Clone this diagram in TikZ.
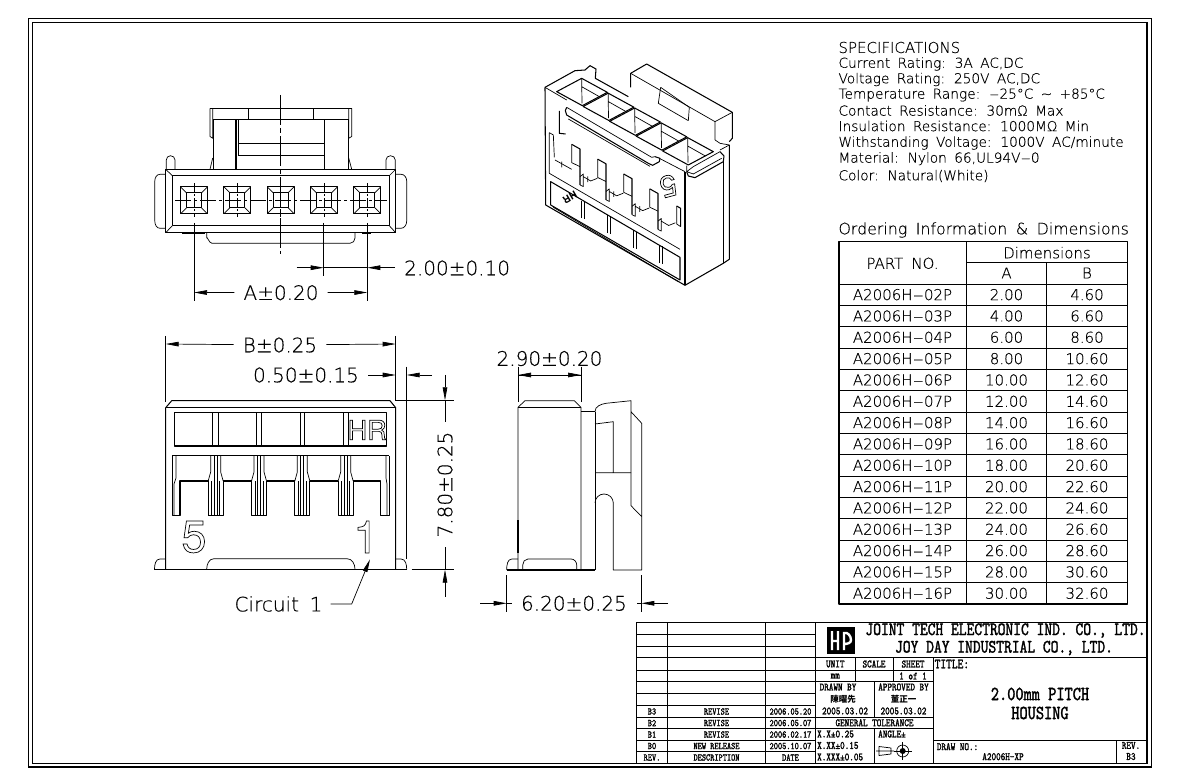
\documentclass[tikz,border=0pt]{standalone}
\usepackage{fontspec}
\usetikzlibrary{arrows.meta,calc}
\newfontfamily\cadfont[WordSpace=1.7,FakeBold=0.25]{DejaVu Sans ExtraLight}
\newfontfamily\bigfont{TeX Gyre Heros}
\newfontfamily\cjkfont{Noto Sans CJK TC}
\newfontfamily\tbfont[Extension=.otf,FakeBold=1.5,FakeStretch=0.78]{lmmono10-regular}
\newcommand{\outlined}[1]{\special{pdf:literal direct 1 Tr 0.7 w}#1\special{pdf:literal direct 0 Tr}}
\newcommand{\wdash}{\scalebox{2.1}[1]{-}}
\tikzstyle{part}=[draw, line width=1.05pt, line join=round]
\tikzstyle{fine}=[draw, line width=0.7pt, line join=round]
\tikzstyle{axis}=[draw, line width=0.6pt, dash pattern=on 16pt off 3pt on 3pt off 3pt]
\tikzstyle{extline}=[draw, line width=0.6pt]
\tikzstyle{dimline}=[draw, line width=0.7pt, -{Stealth[length=13pt,width=4.6pt,inset=0pt]}]
\tikzstyle{dimtext}=[font=\cadfont\fontsize{20}{20}\selectfont, inner sep=9pt]
\tikzstyle{spec}=[anchor=west, inner sep=0pt, font=\cadfont\fontsize{13.7}{14}\selectfont]
\tikzstyle{cell}=[inner sep=0pt, font=\cadfont\fontsize{15}{16}\selectfont]
\tikzstyle{tbs}=[inner sep=0pt, font=\tbfont\fontsize{10.2}{11}\selectfont]
\tikzstyle{tbm}=[inner sep=0pt, font=\tbfont\fontsize{11.2}{12}\selectfont]
\tikzstyle{tbl}=[inner sep=0pt, font=\tbfont\fontsize{19}{20}\selectfont]
\begin{document}
\begin{tikzpicture}[x=1pt,y=-1pt]
  \useasboundingbox (0,0) rectangle (1189,775);

  % Sheet frame
  \draw[line width=1.1pt] (28.3,18.3) rectangle (1151.5,767);
  \draw[line width=1.3pt] (32.3,22.3) rectangle (1147,763.5);

  % Front view, top left
  \path[part] (165.7,169.3) rectangle (395.7,232.7);
  \path[fine] (172.3,175.7) rectangle (389.3,225.7);
  \path[fine] (165.7,169.3) -- (172.3,175.7) (395.7,169.3) -- (389.3,175.7)
    (165.7,232.7) -- (172.3,225.7) (395.7,232.7) -- (389.3,225.7);
  \path[fine] (165.7,174.3) -- (160,174.3) to[out=180,in=90] (154.8,181) -- (154.8,221)
    to[out=-90,in=180] (160,228.3) -- (165.7,228.3);
  \path[fine] (395.7,174.3) -- (401,174.3) to[out=0,in=90] (406.7,181) -- (406.7,221)
    to[out=-90,in=0] (401,228.3) -- (395.7,228.3);
  \path[fine] (166.3,169.3) -- (166.3,160) to[out=90,in=180] (170.5,155.7)
    to[out=0,in=90] (175,160) -- (175,169.3);
  \path[fine] (386,169.3) -- (386,160) to[out=90,in=180] (390.5,155.7)
    to[out=0,in=90] (395.3,160) -- (395.3,169.3);
  \path[fine] (210,108.3) -- (351.7,108.3) (213,119.3) -- (348.5,119.3);
  \path[fine] (210,108.3) -- (210,136.5) -- (212.7,138.3) -- (212.7,108.3);
  \path[fine] (351.7,108.3) -- (351.7,136.5) -- (348.7,138.3) -- (348.7,108.3);
  \path[fine] (248.3,108.3) -- (248.3,119.3) (313.3,108.3) -- (313.3,119.3);
  \path[fine] (213.3,119.3) -- (213.3,169.3) (348.3,119.3) -- (348.3,169.3);
  \path[part] (236,119.3) -- (236,169.3) (324.5,119.3) -- (324.5,169.3);
  \path[fine] (238.3,119.3) -- (238.3,155.3) (238.3,143.3) -- (324.5,143.3) (238.3,155.3) -- (324.5,155.3);
  \path[fine] (212.7,158) -- (210,169.3) (348.7,158) -- (351.7,169.3);
  \path[fine] (206.7,232.7) -- (206.7,238) to[out=90,in=180] (212,243.3) -- (350,243.3)
    to[out=0,in=-90] (355,238) -- (355,232.7);
  \path[part] (182,233.3) -- (205,233.3) (362,233.3) -- (371,233.3);
  \foreach \cx in {194,237.33,280.67,324,367.33}{
    \begin{scope}[shift={(\cx,200.3)}]
      \path[part] (-13.4,-13.4) rectangle (13.4,13.4);
      \path[fine] (-7.5,-7.5) rectangle (7.5,7.5);
      \path[fine] (-13.4,-13.4) -- (-7.5,-7.5) (13.4,-13.4) -- (7.5,-7.5)
        (-13.4,13.4) -- (-7.5,7.5) (13.4,13.4) -- (7.5,7.5);
      \path[axis, dash pattern=on 9pt off 2pt on 2pt off 2pt] (0,-17) -- (0,17);
    \end{scope}
  }
  \path[axis] (175,200.3) -- (387,200.3);
  \path[axis, dash pattern=on 30pt off 3pt on 5pt off 3pt] (280.7,95) -- (280.7,254);

  % Dimensions of the front view
  \path[extline] (194,223) -- (194,301);
  \path[extline] (323.7,223) -- (323.7,276);
  \path[extline] (367.3,223) -- (367.3,301);
  \coordinate (pitchL) at (323.7,267.7);
  \coordinate (pitchLfree) at (296.7,267.7);
  \coordinate (pitchR) at (367.3,267.7);
  \node[dimtext, anchor=west, inner sep=0pt] (pitchText) at (404,268) {2.00±0.10};
  \coordinate (pitchRfree) at (395,267.7);
  \path[dimline] (pitchLfree) -- (pitchL);
  \path[dimline] (pitchRfree) -- (pitchR);
  \path[extline] (pitchL) -- (pitchR);
  \coordinate (aL) at (194,292.5);
  \coordinate (aR) at (367.3,292.5);
  \node[dimtext] (aText) at (281,292.7) {A±0.20};
  \path[dimline] (aText) -- (aL);
  \path[dimline] (aText) -- (aR);

  % Rear view, lower left
  \path[part] (165.7,569.3) -- (165.7,407.7) -- (171.7,400.7) -- (390,400.7) -- (395.7,407.7) -- (395.7,569.3);
  \path[fine] (165.7,407.7) -- (395.7,407.7);
  \path[part] (154.3,569.3) -- (406.7,569.3);
  \path[fine] (165.7,559) -- (160,559) to[out=180,in=90] (154.5,569.3);
  \path[fine] (395.7,559) -- (401,559) to[out=0,in=90] (406.7,569.3);
  \path[fine] (206.7,569.3) to[out=90,in=180] (214,558.7) -- (347,558.7) to[out=0,in=90] (355,569.3);
  \path[part] (174.3,412.3) rectangle (386.7,446);
  \foreach \lx in {212.7,218,256.7,261,300,304.3,343.3,348.3}{
    \path[fine] (\lx,412.3) -- (\lx,446);
  }
  \node[inner sep=0pt, font=\bigfont\fontsize{27}{27}\selectfont] (hrMark) at (367.2,430) {\outlined{HR}};
  \path[part] (172.3,455.7) -- (389.3,455.7);
  \path[part] (172.3,455.7) -- (172.3,515.7) -- (180,515.7) -- (180,481) -- (208.2,481) -- (208.2,515.7);
  \foreach \fx in {215.67,259,302.33,345.67}{
    \begin{scope}[shift={(\fx,0)}]
      \path[part] (-7.5,481) -- (-7.5,515.7) -- (7.5,515.7) -- (7.5,481);
      \path[fine] (-5,455.7) -- (-5,472) -- (-7.5,481) (5,455.7) -- (5,472) -- (7.5,481);
      \path[fine] (-1.5,455.7) -- (-1.5,515.7) (1.5,455.7) -- (1.5,515.7);
      \path[fine] (-4,481) -- (-4,515.7) (4,481) -- (4,515.7);
    \end{scope}
  }
  \foreach \nx in {223.17,266.5,309.83}{
    \path[part] (\nx,481) -- (\nx+28.33,481);
  }
  \path[part] (353.17,481) -- (380.7,481) -- (380.7,515.7) -- (389.3,515.7) -- (389.3,455.7);
  \path[fine] (176,455.7) -- (176,478) -- (174,484) -- (174,515.7) (386,455.7) -- (386,478) -- (387,484) -- (387,515.7);
  \node[inner sep=0pt, font=\bigfont\fontsize{45}{45}\selectfont] (numFive) at (194,537) {\outlined{5}};
  \node[inner sep=0pt, font=\bigfont\fontsize{45}{45}\selectfont] (numOne) at (366,537) {\outlined{1}};

  % Dimensions of the rear view
  \path[extline] (165.7,336) -- (165.7,401.7);
  \path[extline] (395.7,336) -- (395.7,400.7);
  \path[extline] (406.7,366.7) -- (406.7,559);
  \path[extline] (395.7,400.7) -- (454,400.7);
  \path[extline] (411.7,569.6) -- (454,569.6);
  \coordinate (bL) at (165.7,344);
  \coordinate (bR) at (395.7,344);
  \node[dimtext] (bText) at (280,345) {B±0.25};
  \path[dimline] (bText) -- (bL);
  \path[dimline] (bText) -- (bR);
  \coordinate (wallL) at (395.7,375);
  \coordinate (wallR) at (406.7,375);
  \coordinate (wallFree) at (432,375);
  \node[dimtext] (wallText) at (306,375) {0.50±0.15};
  \path[dimline] (wallText) -- (wallL);
  \path[dimline] (wallFree) -- (wallR);
  \coordinate (hTop) at (445,400.3);
  \coordinate (hTopFree) at (445,375);
  \coordinate (hBot) at (445,569.6);
  \coordinate (hBotFree) at (445,596.7);
  \node[dimtext, rotate=90] (hText) at (445,484.5) {7.80±0.25};
  \path[dimline] (hTopFree) -- (hTop);
  \path[extline] (hTop) -- (hText);
  \path[dimline] (hBotFree) -- (hBot);
  \path[extline] (hBot) -- (hText);
  \coordinate (circuitTip) at (370,559.3);
  \coordinate (circuitBend) at (351.7,604);
  \node[dimtext, inner sep=8pt] (circuitText) at (278.5,604) {Circuit 1};
  \path[dimline] (circuitText) -- (circuitBend) -- (circuitTip);

  % Side view
  \path[fine] (518,570) -- (518,407.3) -- (525,400.7) -- (574.3,400.7) -- (581,407.3) -- (581,570);
  \path[fine] (518,407.3) -- (581,407.3);
  \path[part] (506.7,570) -- (595,570);
  \path[fine] (518,559) -- (512,559) to[out=180,in=90] (506.7,570);
  \path[fine] (522.7,570) -- (522.7,565) to[out=90,in=180] (528,559) -- (571,559) to[out=0,in=90] (576.7,565) -- (576.7,570);
  \path[part] (518,520) -- (518,553);
  \path[fine] (581,411.7) -- (595,411.7);
  \path[fine] (595,411.7) -- (595,570);
  \path[fine] (595,411.7) to[out=90,in=190] (606,403.3) -- (631,400.7) -- (631,505.7)
    -- (641.7,516.7) (631,411.7) -- (641.7,423.3) -- (641.7,570) -- (613.3,570) -- (613.3,503)
    to[out=90,in=0] (604,494) to[out=180,in=90] (595,503);
  \path[fine] (595,424) -- (613.3,421.7) -- (613.3,472.7) (595,472.7) -- (631,472.7);
  \coordinate (depthL) at (518,375);
  \coordinate (depthR) at (581,375);
  \path[extline] (518,366.7) -- (518,401.7) (581,366.7) -- (581,401.7);
  \node[dimtext, inner sep=0pt] (depthText) at (549.5,358.5) {2.90±0.20};
  \path[dimline] (depthR) -- (depthL);
  \path[dimline] (depthL) -- (depthR);
  \path[extline] (506.7,575) -- (506.7,611.7) (641.3,575) -- (641.3,611.7);
  \coordinate (totalL) at (506.7,603.3);
  \coordinate (totalR) at (641.3,603.3);
  \coordinate (totalLfree) at (480,603.3);
  \coordinate (totalRfree) at (668,603.3);
  \coordinate (totalLstub) at (511.7,603.3);
  \coordinate (totalRstub) at (636.7,603.3);
  \node[dimtext, inner sep=0pt] (totalText) at (574,603.3) {6.20±0.25};
  \path[dimline] (totalLfree) -- (totalL);
  \path[dimline] (totalRfree) -- (totalR);
  \path[extline] (totalL) -- (totalLstub) (totalR) -- (totalRstub);

  % Isometric view, at the scale of its sketch
  \begin{scope}[shift={(520,50)},scale=0.3333]
    \path[part] (75,112) -- (77,465) -- (495,706) -- (610,640) -- (628,628) -- (628,285);
    \path[part] (75,112) -- (165,62) -- (195,60) -- (210,47) -- (228,57) -- (226,85) -- (325,140);
    \path[part] (332,112) -- (332,70) -- (380,42) -- (637,187) -- (637,265) -- (628,275);
    \path[fine] (332,70) -- (585,215) -- (637,187) (585,215) -- (585,270);
    \path[fine] (422,112) -- (415,160) -- (505,212) -- (508,172) -- (422,112);
    \path[fine] (585,270) -- (600,280) -- (628,285);
    \foreach \i in {0,1,2,3,4}{
      \begin{scope}[shift={(79.5*\i,44.5*\i)}]
        \path[part] (110,125) -- (185,85) -- (262,127) -- (187,167) -- cycle;
        \path[fine] (185,85) -- (186,160) (185,110) -- (238,140);
      \end{scope}
    }
    \path[fine] (75,112) -- (140,150) (500,347) -- (500,365);
    \path[part] (140,172) -- (136,182) -- (140,195) -- (385,340) -- (398,346) -- (418,335) -- (420,325) -- (405,320);
    \path[fine] (140,172) -- (395,322) -- (405,320) (145,207) -- (390,349);
    \path[part] (495,365) -- (495,706);
    \path[fine] (418,325) -- (495,365);
    \path[part] (500,365) -- (505,378) -- (525,383) -- (610,335) -- (612,318) -- (600,305);
    \path[fine] (500,365) -- (520,372) -- (605,325) (600,305) -- (520,350) -- (500,365);
    \path[part] (610,325) -- (610,640);
    \path[fine] (628,285) -- (600,300);
    \path[part] (118,183) -- (118,250) -- (137,252);
    \path[fine] (88,248) -- (100,255) -- (103,322) (88,248) -- (88,370) -- (480,598);
    \path[fine] (105,330) -- (155,358);
    \foreach \i in {0,1,2,3}{
      \begin{scope}[shift={(78*\i,44.5*\i)}]
        \path[part] (155,283) -- (180,297) -- (180,405);
        \path[fine] (155,283) -- (155,338) -- (180,350) (125,335) -- (125,352);
        \path[fine] (180,380) -- (190,372) -- (190,410) -- (180,405) (190,380) -- (212,393) -- (232,385);
      \end{scope}
    }
    \path[part] (470,468) -- (482,475) -- (482,530);
    \path[fine] (470,468) -- (470,522) -- (482,530);
    \path[part] (92,395) -- (480,622) -- (480,690) -- (92,465) -- cycle;
    \path[fine] (100,472) -- (475,695);
    \foreach \i in {0,1,2,3}{
      \begin{scope}[shift={(78*\i,44.5*\i)}]
        \path[part] (185,452) -- (185,505);
        \path[fine] (192,456) -- (192,508);
      \end{scope}
    }
    \node[rotate=210, inner sep=0pt, font=\bigfont\bfseries\fontsize{10}{10}\selectfont] (isoMark) at (150,442) {HR};
    \node[rotate=195, inner sep=0pt, font=\bigfont\fontsize{30}{30}\selectfont] (isoNum) at (445,408) {\outlined{5}};
  \end{scope}

  % Specifications
  \node[spec, font=\cadfont\fontsize{15}{15}\selectfont] (spTitle) at (838.3,47.5) {SPECIFICATIONS};
  \node[spec] (sp1) at (838.3,64) {Current Rating: 3A AC,DC};
  \node[spec] (sp2) at (838.3,79.5) {Voltage Rating: 250V AC,DC};
  \node[spec] (sp3) at (838.3,95) {Temperature Range: \wdash25°C {\char"7E} +85°C};
  \node[spec] (sp4) at (838.3,110.5) {Contact Resistance: 30mΩ Max};
  \node[spec] (sp5) at (838.3,126) {Insulation Resistance: 1000MΩ Min};
  \node[spec] (sp6) at (838.3,143) {Withstanding Voltage: 1000V AC/minute};
  \node[spec] (sp7) at (838.3,158.7) {Material: Nylon 66,UL94V\wdash0};
  \node[spec] (sp8) at (838.3,176) {Color: Natural(White)};
  \node[spec, font=\cadfont\fontsize{15.8}{16}\selectfont] (orderTitle) at (838.3,230) {Ordering Information \& Dimensions};

  % Ordering table
  \path[part] (839,241.7) rectangle (1127.7,604);
  \path[fine] (966.3,241.7) -- (966.3,604) (1046.7,262.3) -- (1046.7,604) (966.3,262.3) -- (1127.7,262.3);
  \foreach \r in {0,...,14}{
    \path[fine] (839,284+21.33*\r) -- (1127.7,284+21.33*\r);
  }
  \node[cell] (hdPart) at (902.5,263.3) {PART NO.};
  \node[cell] (hdDim) at (1047,252.7) {Dimensions};
  \node[cell] (hdA) at (1006.5,273) {A};
  \node[cell] (hdB) at (1087,273) {B};
  \foreach \pn/\va/\vb [count=\i] in {02/2.00/4.60,03/4.00/6.60,04/6.00/8.60,05/8.00/10.60,
      06/10.00/12.60,07/12.00/14.60,08/14.00/16.60,09/16.00/18.60,10/18.00/20.60,11/20.00/22.60,
      12/22.00/24.60,13/24.00/26.60,14/26.00/28.60,15/28.00/30.60,16/30.00/32.60}{
    \node[cell] (part\i) at (902.5,284+21.33*\i-10.67) {A2006H\wdash\pn P};
    \node[cell] (dimA\i) at (1006.5,284+21.33*\i-10.67) {\va};
    \node[cell] (dimB\i) at (1087,284+21.33*\i-10.67) {\vb};
  }

  % Title block
  \path[fine] (636.7,622.5) rectangle (1147,763.5);
  \foreach \ry in {634.3,646.7,657.7,670,681.7,693.7,705.7,717.3,728.3,740.3,751.7}{
    \path[fine] (636.7,\ry) -- (815.7,\ry);
  }
  \path[fine] (667.7,622.5) -- (667.7,763.5) (765.3,622.5) -- (765.3,763.5) (815.7,622.5) -- (815.7,763.5);
  \path[fine] (815.7,657.7) -- (1147,657.7) (815.7,670) -- (933.3,670) (815.7,681.5) -- (933.3,681.5)
    (815.7,717.3) -- (933.3,717.3) (815.7,728.3) -- (933.3,728.3) (933.3,740.3) -- (1147,740.3);
  \path[fine] (933.3,657.7) -- (933.3,763.5) (855,657.7) -- (855,681.5) (893.3,657.7) -- (893.3,681.5)
    (874,681.5) -- (874,717.3) (874,728.3) -- (874,763.5) (1116,740.3) -- (1116,763.5);
  \fill (827,627) rectangle (855,654);
  \draw[white, line width=2.4pt] (832,631) -- (832,650) (838,631) -- (838,650) (832,641) -- (838,641)
    (844,650) -- (844,633) to[out=20,in=90] (851,640) to[out=-90,in=0] (844,644);
  \node[tbl] (coName) at (1005.5,630.5) {JOINT TECH ELECTRONIC IND. CO., LTD.};
  \node[tbl] (coNameB) at (1004,648) {JOY DAY INDUSTRIAL CO., LTD.};
  \foreach \rn/\ds/\dt [count=\i] in {B3/REVISE/2006.05.20,B2/REVISE/2006.05.07,B1/REVISE/2006.02.17,
      B0/NEW RELEASE/2005.10.07,REV./DESCRIPTION/DATE}{
    \node[tbs] (rev\i) at (652,700+11.5*\i) {\rn};
    \node[tbs] (revDesc\i) at (716.5,700+11.5*\i) {\ds};
    \node[tbs] (revDate\i) at (790.5,700+11.5*\i) {\dt};
  }
  \node[tbm] (unitHd) at (835.3,664) {UNIT};
  \node[tbm] (scaleHd) at (874,664) {SCALE};
  \node[tbm] (sheetHd) at (913,664) {SHEET};
  \node[tbm] (unitVal) at (835.3,676) {mm};
  \node[tbm] (sheetVal) at (913,676) {1 of 1};
  \node[tbm] (drawnHd) at (838,687) {DRAWN BY};
  \node[tbm] (apprHd) at (903.5,687) {APPROVED BY};
  \node[inner sep=0pt, font=\cjkfont\bfseries\fontsize{8.5}{9}\selectfont] (drawnName) at (843,699) {陳曜先};
  \node[inner sep=0pt, font=\cjkfont\bfseries\fontsize{8.5}{9}\selectfont] (apprName) at (903.5,699) {董正一};
  \node[tbm] (drawnDate) at (845,711) {2005.03.02};
  \node[tbm] (apprDate) at (903.5,711) {2005.03.02};
  \node[tbm] (tolHd) at (874.5,722.8) {GENERAL TOLERANCE};
  \node[tbm, anchor=west] (tolA) at (817,734) {X.X±0.25};
  \node[tbm, anchor=west] (tolB) at (817,745.5) {X.XX±0.15};
  \node[tbm, anchor=west] (tolC) at (817,757) {X.XXX±0.05};
  \node[tbm, anchor=west] (angHd) at (878,734) {ANGLE±};
  \path[fine] (879,746.5) -- (891,748) -- (891,754) -- (879,755.5) -- cycle (876,751) -- (894,751);
  \path[fine] (902.7,751) circle (6);
  \fill (902.7,751) circle (3);
  \path[fine] (893.5,751) -- (912,751) (902.7,742) -- (902.7,760);
  \node[inner sep=0pt, anchor=west, font=\tbfont\fontsize{14}{15}\selectfont] (titleHd) at (934.5,664) {TITLE:};
  \node[inner sep=0pt, font=\tbfont\fontsize{20}{21}\selectfont] (titleA) at (1040,694) {2.00mm PITCH};
  \node[inner sep=0pt, font=\tbfont\fontsize{20}{21}\selectfont] (titleB) at (1040,713) {HOUSING};
  \node[tbm, anchor=west] (drawNoHd) at (936.7,746.7) {DRAW NO.:};
  \node[tbm] (drawNo) at (1003,756.7) {A2006H-XP};
  \node[tbm] (revHd) at (1131,745.5) {REV.};
  \node[tbm] (revVal) at (1131,756.5) {B3};
\end{tikzpicture}
\end{document}
